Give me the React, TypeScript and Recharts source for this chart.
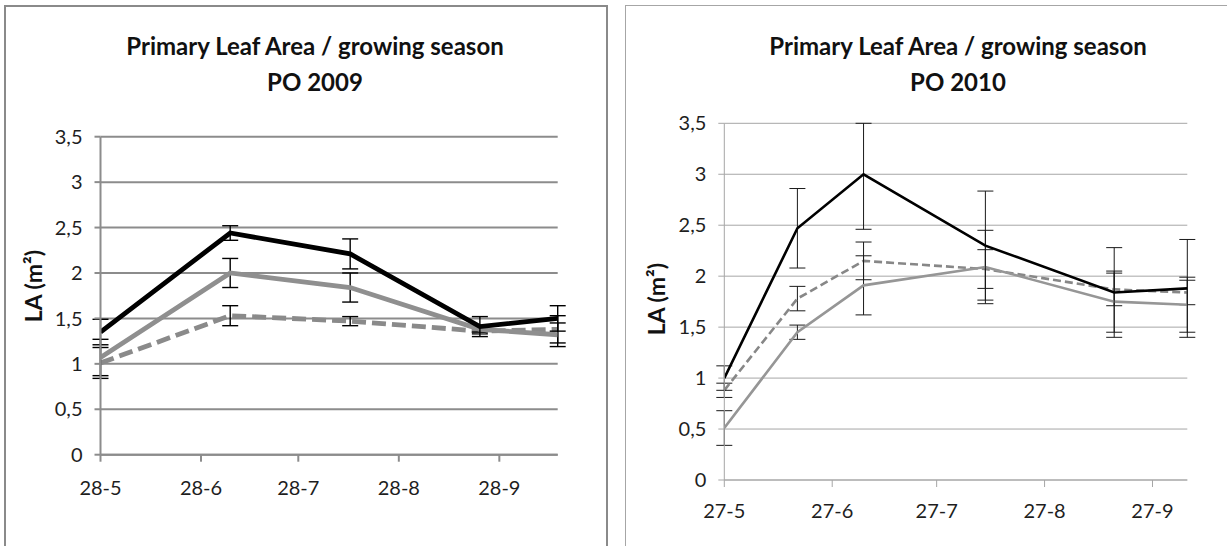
import React from "react";
import { LineChart, Line, XAxis, YAxis, CartesianGrid, ErrorBar } from "recharts";

// ---- PO 2009 ----
const dates2009 = ["2009-05-28", "2009-07-07", "2009-08-13", "2009-09-22", "2009-10-16"];
const black2009 = [1.35, 2.44, 2.21, 1.41, 1.5];
const black2009Err = [0.14, 0.08, 0.165, 0.11, 0.14];
const graySolid2009 = [1.07, 2.0, 1.84, 1.38, 1.32];
const graySolid2009Err = [0.2, 0.16, 0.16, 0.03, 0.13];
const grayDashed2009 = [1.01, 1.53, 1.47, 1.36, 1.38];
const grayDashed2009Err = [0.17, 0.11, 0.05, 0.03, 0.15];
const tickDates2009 = ["2009-05-28", "2009-06-28", "2009-07-28", "2009-08-28", "2009-09-28"];
const tickLabels2009 = ["28-5", "28-6", "28-7", "28-8", "28-9"];

// ---- PO 2010 ----
const dates2010 = ["2010-05-27", "2010-06-17", "2010-07-06", "2010-08-10", "2010-09-16", "2010-10-07"];
const black2010 = [1.0, 2.47, 3.0, 2.3, 1.84, 1.88];
const black2010Err = [0.12, 0.39, 0.54, 0.535, 0.44, 0.48];
const grayDashed2010 = [0.88, 1.78, 2.15, 2.07, 1.87, 1.84];
const grayDashed2010Err = [0.07, 0.12, 0.185, 0.19, 0.16, 0.12];
const graySolid2010 = [0.51, 1.45, 1.91, 2.09, 1.75, 1.72];
const graySolid2010Err = [0.17, 0.07, 0.29, 0.36, 0.3, 0.27];
const tickDates2010 = ["2010-05-27", "2010-06-27", "2010-07-27", "2010-08-27", "2010-09-27"];
const tickLabels2010 = ["27-5", "27-6", "27-7", "27-8", "27-9"];

const yTicks = [0, 0.5, 1, 1.5, 2, 2.5, 3, 3.5];
const Y_MAX = 3.5;
const TITLE = "Primary Leaf Area / growing season";
const FONT = "Lato, 'Open Sans', sans-serif";

const dayOf = (iso: string, base: string) => (Date.parse(iso) - Date.parse(base)) / 86400000;

// error bars stop at the top of the value axis
const errRange = (v: number, e: number) => [e, Math.min(e, Y_MAX - v)];

function buildRows(
  dates: string[],
  black: number[], blackErr: number[],
  dashed: number[], dashedErr: number[],
  solid: number[], solidErr: number[]
) {
  return dates.map((d, i) => ({
    day: dayOf(d, dates[0]),
    black: black[i], blackErr: errRange(black[i], blackErr[i]),
    dashed: dashed[i], dashedErr: errRange(dashed[i], dashedErr[i]),
    solid: solid[i], solidErr: errRange(solid[i], solidErr[i]),
  }));
}

type PanelStyle = {
  grid: string;
  gridWidth: number;
  lineWidth: number;
  gray: string;
  graySolid: string;
  dash: string;
  errWidth: number;
  errStroke: string;
};

type PanelProps = {
  rows: ReturnType<typeof buildRows>;
  tickDays: number[];
  tickLabels: string[];
  width: number;
  height: number;
  margin: { top: number; right: number; bottom: number; left: number };
  xTickMargin: number;
  s: PanelStyle;
};

function Panel({ rows, tickDays, tickLabels, width, height, margin, xTickMargin, s }: PanelProps) {
  const lastDay = rows[rows.length - 1].day;
  const fmtX = (v: number) => {
    const i = tickDays.indexOf(v);
    return i >= 0 ? tickLabels[i] : "";
  };
  const tickStyle = { fontSize: 20, fill: "#1e1e1e", fontFamily: FONT };
  return (
    <LineChart width={width} height={height} data={rows} margin={margin}>
      <CartesianGrid horizontal vertical={false} stroke={s.grid} strokeWidth={s.gridWidth} />
      <XAxis
        type="number"
        dataKey="day"
        domain={[0, lastDay]}
        ticks={tickDays}
        tickFormatter={fmtX}
        allowDataOverflow
        height={40}
        tick={tickStyle}
        tickSize={7}
        tickMargin={xTickMargin}
        axisLine={{ stroke: s.grid, strokeWidth: s.gridWidth }}
        tickLine={{ stroke: s.grid, strokeWidth: s.gridWidth }}
      />
      <YAxis
        type="number"
        domain={[0, Y_MAX]}
        ticks={yTicks}
        allowDataOverflow
        width={60}
        tick={tickStyle}
        tickSize={6}
        tickMargin={12}
        tickFormatter={(v: number) => String(v).replace(".", ",")}
        axisLine={{ stroke: s.grid, strokeWidth: s.gridWidth }}
        tickLine={{ stroke: s.grid, strokeWidth: s.gridWidth }}
      />
      <Line
        type="linear"
        dataKey="dashed"
        stroke={s.gray}
        strokeWidth={s.lineWidth}
        strokeDasharray={s.dash}
        dot={false}
        activeDot={false}
        isAnimationActive={false}
      >
        <ErrorBar dataKey="dashedErr" direction="y" width={8} stroke={s.errStroke} strokeWidth={s.errWidth} isAnimationActive={false} />
      </Line>
      <Line
        type="linear"
        dataKey="solid"
        stroke={s.graySolid}
        strokeWidth={s.lineWidth}
        dot={false}
        activeDot={false}
        isAnimationActive={false}
      >
        <ErrorBar dataKey="solidErr" direction="y" width={8} stroke={s.errStroke} strokeWidth={s.errWidth} isAnimationActive={false} />
      </Line>
      <Line
        type="linear"
        dataKey="black"
        stroke="#000"
        strokeWidth={s.lineWidth}
        dot={false}
        activeDot={false}
        isAnimationActive={false}
      >
        <ErrorBar dataKey="blackErr" direction="y" width={8} stroke={s.errStroke} strokeWidth={s.errWidth} isAnimationActive={false} />
      </Line>
    </LineChart>
  );
}

function Title({ cx, year }: { cx: number; year: string }) {
  const style: React.CSSProperties = {
    position: "absolute",
    left: cx - 260,
    width: 520,
    textAlign: "center",
    fontFamily: FONT,
    fontWeight: 700,
    fontSize: 24,
    color: "#111",
    lineHeight: "36px",
    top: 28,
  };
  return (
    <div style={style}>
      <div>{TITLE}</div>
      <div>{year}</div>
    </div>
  );
}

function YLabel({ cx, cy }: { cx: number; cy: number }) {
  return (
    <div
      style={{
        position: "absolute",
        left: cx - 60,
        top: cy - 15,
        width: 120,
        height: 30,
        lineHeight: "30px",
        textAlign: "center",
        transform: "rotate(-90deg)",
        fontFamily: FONT,
        fontWeight: 700,
        fontSize: 23,
        color: "#111",
      }}
    >
      LA (m²)
    </div>
  );
}

export default function App() {
  const rows2009 = buildRows(dates2009, black2009, black2009Err, grayDashed2009, grayDashed2009Err, graySolid2009, graySolid2009Err);
  const rows2010 = buildRows(dates2010, black2010, black2010Err, grayDashed2010, grayDashed2010Err, graySolid2010, graySolid2010Err);
  const ticks2009 = tickDates2009.map((d) => dayOf(d, dates2009[0]));
  const ticks2010 = tickDates2010.map((d) => dayOf(d, dates2010[0]));

  return (
    <div
      style={{
        position: "absolute",
        left: 0,
        top: 0,
        width: 1227,
        height: 546,
        overflow: "hidden",
        background: "#fff",
      }}
    >
      {/* chart frames */}
      <div style={{ position: "absolute", left: 4, top: 5, width: 600, height: 600, border: "2px solid #8a8a8a" }} />
      <div style={{ position: "absolute", left: 625, top: 5, width: 700, height: 600, border: "1px solid #a6a6a6" }} />

      <div style={{ position: "absolute", left: 0, top: 0 }}>
        <Panel
          rows={rows2009}
          tickDays={ticks2009}
          tickLabels={tickLabels2009}
          width={610}
          height={546}
          margin={{ top: 136.7, right: 52.3, bottom: 51.3, left: 40.5 }}
          xTickMargin={19}
          s={{
            grid: "#8c8c8c",
            gridWidth: 2,
            lineWidth: 4.8,
            gray: "#8a8a8a",
            graySolid: "#8f8f8f",
            dash: "14 6",
            errWidth: 1.4,
            errStroke: "#000",
          }}
        />
      </div>
      <div style={{ position: "absolute", left: 612, top: 0 }}>
        <Panel
          rows={rows2010}
          tickDays={ticks2010}
          tickLabels={tickLabels2010}
          width={615}
          height={546}
          margin={{ top: 123.3, right: 39.7, bottom: 26, left: 52.3 }}
          xTickMargin={17}
          s={{
            grid: "#a6a6a6",
            gridWidth: 1,
            lineWidth: 2.6,
            gray: "#878787",
            graySolid: "#969696",
            dash: "8 4",
            errWidth: 1,
            errStroke: "#1a1a1a",
          }}
        />
      </div>

      <Title cx={315} year="PO 2009" />
      <Title cx={958} year="PO 2010" />
      <YLabel cx={33} cy={286} />
      <YLabel cx={656} cy={299} />
    </div>
  );
}
